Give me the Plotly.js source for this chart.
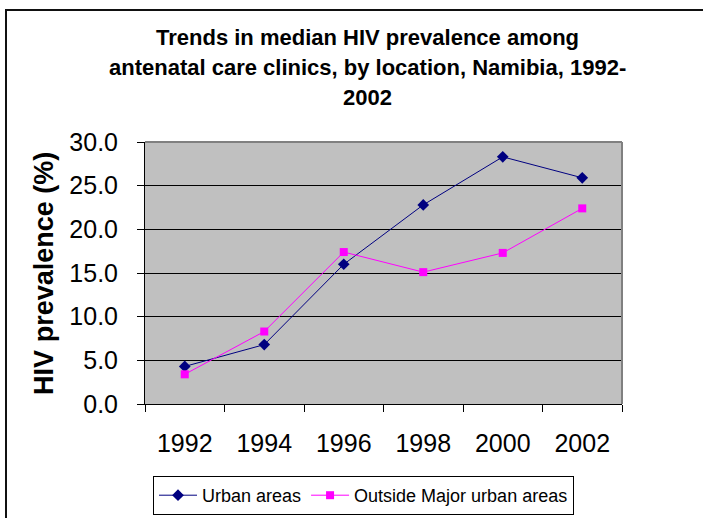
<!DOCTYPE html>
<html>
<head>
<meta charset="utf-8">
<script src="https://cdn.plot.ly/plotly-3.0.1.min.js"></script>
<style>
html,body{margin:0;padding:0;background:#fff;}
#chart{width:703px;height:518px;}
</style>
</head>
<body>
<div id="chart"></div>
<script>
// Data
const years = ["1992", "1994", "1996", "1998", "2000", "2002"];
const urbanAreas = [4.3, 6.8, 16.0, 22.8, 28.3, 25.9];
const outsideMajorUrban = [3.4, 8.3, 17.4, 15.1, 17.3, 22.4];
const seriesNames = ["Urban areas", "Outside Major urban areas"];
const titleLines = ["Trends in median HIV prevalence among", "antenatal care clinics, by location, Namibia, 1992-", "2002"];
const yAxisTitle = "HIV prevalence (%)";

const FONT = "Liberation Sans, Arial, sans-serif";

const traces = [
  {
    x: years, y: urbanAreas, name: seriesNames[0], type: "scatter", mode: "lines+markers",
    line: {color: "#000080", width: 1},
    marker: {symbol: "diamond", size: 9, color: "#000080"}
  },
  {
    x: years, y: outsideMajorUrban, name: seriesNames[1], type: "scatter", mode: "lines+markers",
    line: {color: "#FF00FF", width: 1},
    marker: {symbol: "square", size: 8, color: "#FF00FF"}
  }
];

const titleY = [1.397, 1.285, 1.170];
const annotations = titleLines.map((t, i) => ({
  text: "<b>" + t + "</b>", xref: "paper", yref: "paper", x: 0.4675, y: titleY[i],
  xanchor: "center", yanchor: "middle", showarrow: false,
  font: {family: FONT, size: 22, color: "#000"}
}));
annotations.push({
  text: "<b>" + yAxisTitle + "</b>", xref: "paper", yref: "paper", x: -0.212, y: 0.5,
  xanchor: "center", yanchor: "middle", showarrow: false, textangle: -90,
  font: {family: FONT, size: 27, color: "#000"}
});

const layout = {
  width: 703, height: 518,
  margin: {l: 145, r: 81, t: 142, b: 114, autoexpand: false},
  paper_bgcolor: "#ffffff",
  plot_bgcolor: "#C0C0C0",
  font: {family: FONT, color: "#000"},
  showlegend: true,
  legend: {
    orientation: "h", xref: "container", yref: "container",
    x: 153 / 703, y: (518 - 476) / 518, xanchor: "left", yanchor: "top",
    bgcolor: "#ffffff", bordercolor: "#000", borderwidth: 1,
    font: {family: FONT, size: 18, color: "#000"},
    itemwidth: 38, tracegroupgap: 0
  },
  xaxis: {
    type: "category", range: [-0.5, 5.5], tickson: "boundaries",
    ticks: "outside", ticklen: 7, tickcolor: "#000", tickwidth: 1,
    showline: true, linecolor: "#000", linewidth: 1,
    showgrid: false, zeroline: false,
    tickfont: {family: FONT, size: 25, color: "#000"},
    ticklabelstandoff: 17, fixedrange: true
  },
  yaxis: {
    range: [0, 30], dtick: 5, tick0: 0, tickformat: ".1f",
    ticks: "outside", ticklen: 7, tickcolor: "#000", tickwidth: 1,
    showline: true, linecolor: "#000", linewidth: 1,
    showgrid: true, gridcolor: "#000", gridwidth: 1, zeroline: false,
    tickfont: {family: FONT, size: 25, color: "#000"},
    ticklabelstandoff: 14, fixedrange: true
  },
  annotations: annotations,
  shapes: [
    {type: "line", xref: "paper", yref: "paper", x0: 0, x1: 1, y0: 1, y1: 1, line: {color: "#808080", width: 2}},
    {type: "line", xref: "paper", yref: "paper", x0: 1, x1: 1, y0: 0, y1: 1, line: {color: "#808080", width: 2}},
    {type: "path", xref: "paper", yref: "paper",
     path: "M -0.2914,-0.6 L -0.2914,1.5038 L 1.2,1.5038", line: {color: "#111", width: 2}}
  ]
};

Plotly.newPlot("chart", traces, layout, {displayModeBar: false, staticPlot: true});
</script>
</body>
</html>
